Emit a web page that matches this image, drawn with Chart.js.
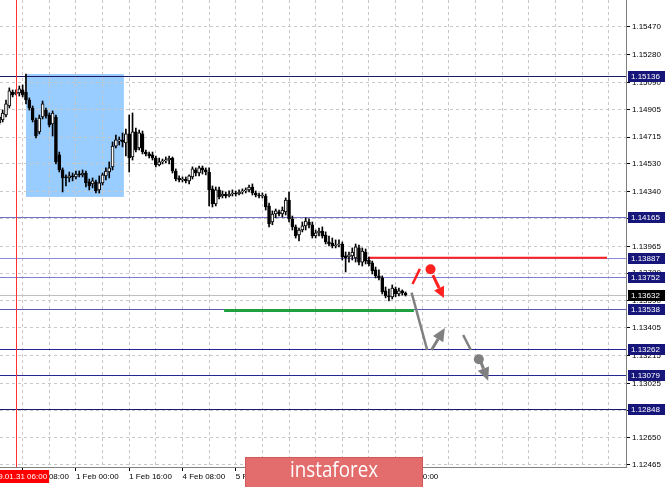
<!DOCTYPE html>
<html>
<head>
<meta charset="utf-8">
<script src="https://cdn.jsdelivr.net/npm/chart.js@4.4.1/dist/chart.umd.min.js"></script>
<style>
  html, body { margin: 0; padding: 0; background: #fff; }
  #wrap { width: 665px; height: 487px; }
</style>
</head>
<body>
<div id="wrap"><canvas id="chart" width="665" height="487"></canvas></div>
<script>
// hourly EURUSD candles, first bar = 31 Jan 01:00 (bar 0 = 31 Jan 06:00)
const firstBar = -5;
const opens = [
  1.14811, 1.14832, 1.14866, 1.14928, 1.15024, 1.15010, 1.15017, 1.15038, 1.15024, 1.14969,
  1.14914, 1.14832, 1.14750, 1.14852, 1.14900, 1.14866, 1.14804, 1.14852, 1.14592, 1.14489,
  1.14441, 1.14434, 1.14448, 1.14441, 1.14461, 1.14455, 1.14468, 1.14407, 1.14393, 1.14407,
  1.14352, 1.14400, 1.14448, 1.14475, 1.14510, 1.14653, 1.14688, 1.14695, 1.14674, 1.14736,
  1.14578, 1.14750, 1.14640, 1.14736, 1.14612, 1.14599, 1.14592, 1.14571, 1.14523, 1.14544,
  1.14551, 1.14557, 1.14571, 1.14482, 1.14434, 1.14420, 1.14427, 1.14414, 1.14441, 1.14489,
  1.14468, 1.14503, 1.14489, 1.14475, 1.14359, 1.14256, 1.14352, 1.14310, 1.14324, 1.14310,
  1.14324, 1.14331, 1.14324, 1.14338, 1.14345, 1.14352, 1.14372, 1.14331, 1.14317, 1.14310,
  1.14310, 1.14242, 1.14132, 1.14187, 1.14201, 1.14187, 1.14201, 1.14283, 1.14153, 1.14098,
  1.14043, 1.14077, 1.14105, 1.14132, 1.14112, 1.14036, 1.14057, 1.14070, 1.14043, 1.13995,
  1.13988, 1.13967, 1.13974, 1.13981, 1.13899, 1.13892, 1.13899, 1.13885, 1.13954, 1.13857,
  1.13926, 1.13871, 1.13851, 1.13803, 1.13762, 1.13748, 1.13659, 1.13624, 1.13618, 1.13672,
  1.13638, 1.13659, 1.13645
];
const highs = [
  1.14866, 1.14900, 1.14969, 1.15052, 1.15038, 1.15038, 1.15065, 1.15072, 1.15147, 1.14983,
  1.14928, 1.14845, 1.14866, 1.14962, 1.14914, 1.14880, 1.14894, 1.14866, 1.14612, 1.14503,
  1.14455, 1.14475, 1.14468, 1.14482, 1.14482, 1.14489, 1.14482, 1.14427, 1.14434, 1.14420,
  1.14448, 1.14468, 1.14503, 1.14544, 1.14681, 1.14729, 1.14715, 1.14743, 1.14770, 1.14866,
  1.14880, 1.14777, 1.14763, 1.14756, 1.14626, 1.14612, 1.14612, 1.14585, 1.14571, 1.14564,
  1.14578, 1.14585, 1.14578, 1.14496, 1.14448, 1.14441, 1.14441, 1.14455, 1.14510, 1.14503,
  1.14516, 1.14516, 1.14503, 1.14503, 1.14379, 1.14372, 1.14372, 1.14345, 1.14338, 1.14345,
  1.14352, 1.14345, 1.14352, 1.14359, 1.14366, 1.14386, 1.14393, 1.14345, 1.14331, 1.14331,
  1.14324, 1.14262, 1.14208, 1.14221, 1.14214, 1.14235, 1.14297, 1.14338, 1.14173, 1.14112,
  1.14091, 1.14132, 1.14160, 1.14153, 1.14132, 1.14077, 1.14091, 1.14098, 1.14064, 1.14036,
  1.14022, 1.14009, 1.14009, 1.13995, 1.13926, 1.13926, 1.13954, 1.13981, 1.13974, 1.13954,
  1.13947, 1.13892, 1.13864, 1.13823, 1.13803, 1.13762, 1.13686, 1.13672, 1.13700, 1.13686,
  1.13679, 1.13666, 1.13652
];
const lows = [
  1.14798, 1.14818, 1.14852, 1.14914, 1.14990, 1.15003, 1.14996, 1.14990, 1.14942, 1.14900,
  1.14818, 1.14708, 1.14736, 1.14839, 1.14845, 1.14784, 1.14722, 1.14530, 1.14475, 1.14338,
  1.14379, 1.14407, 1.14414, 1.14427, 1.14441, 1.14441, 1.14372, 1.14352, 1.14366, 1.14331,
  1.14331, 1.14386, 1.14420, 1.14434, 1.14489, 1.14640, 1.14660, 1.14647, 1.14585, 1.14475,
  1.14557, 1.14612, 1.14626, 1.14599, 1.14585, 1.14571, 1.14557, 1.14510, 1.14516, 1.14530,
  1.14537, 1.14530, 1.14468, 1.14414, 1.14407, 1.14407, 1.14400, 1.14393, 1.14427, 1.14448,
  1.14448, 1.14461, 1.14455, 1.14242, 1.14235, 1.14242, 1.14290, 1.14297, 1.14297, 1.14304,
  1.14310, 1.14310, 1.14317, 1.14324, 1.14331, 1.14338, 1.14317, 1.14304, 1.14297, 1.14297,
  1.14214, 1.14098, 1.14113, 1.14160, 1.14173, 1.14166, 1.14180, 1.14132, 1.14077, 1.14022,
  1.14002, 1.14064, 1.14077, 1.14091, 1.14022, 1.14022, 1.14036, 1.14022, 1.13981, 1.13967,
  1.13954, 1.13954, 1.13961, 1.13871, 1.13789, 1.13857, 1.13871, 1.13857, 1.13837, 1.13830,
  1.13844, 1.13830, 1.13775, 1.13748, 1.13734, 1.13638, 1.13611, 1.13590, 1.13604, 1.13618,
  1.13624, 1.13631, 1.13624
];
const closes = [
  1.14852, 1.14879, 1.14942, 1.15031, 1.15003, 1.15024, 1.15045, 1.15003, 1.14969, 1.14914,
  1.14832, 1.14722, 1.14845, 1.14942, 1.14859, 1.14798, 1.14880, 1.14544, 1.14489, 1.14434,
  1.14434, 1.14448, 1.14441, 1.14461, 1.14455, 1.14468, 1.14400, 1.14379, 1.14414, 1.14345,
  1.14400, 1.14455, 1.14482, 1.14503, 1.14653, 1.14695, 1.14695, 1.14681, 1.14736, 1.14571,
  1.14750, 1.14626, 1.14743, 1.14612, 1.14599, 1.14585, 1.14571, 1.14523, 1.14544, 1.14551,
  1.14557, 1.14571, 1.14482, 1.14427, 1.14420, 1.14427, 1.14414, 1.14448, 1.14496, 1.14468,
  1.14503, 1.14489, 1.14475, 1.14352, 1.14256, 1.14352, 1.14304, 1.14324, 1.14310, 1.14324,
  1.14331, 1.14324, 1.14338, 1.14345, 1.14352, 1.14372, 1.14331, 1.14317, 1.14310, 1.14317,
  1.14235, 1.14119, 1.14187, 1.14208, 1.14187, 1.14214, 1.14283, 1.14153, 1.14098, 1.14036,
  1.14077, 1.14105, 1.14139, 1.14112, 1.14036, 1.14057, 1.14070, 1.14036, 1.13995, 1.13981,
  1.13967, 1.13974, 1.13981, 1.13892, 1.13885, 1.13906, 1.13926, 1.13961, 1.13857, 1.13933,
  1.13864, 1.13844, 1.13796, 1.13762, 1.13748, 1.13652, 1.13624, 1.13618, 1.13679, 1.13638,
  1.13659, 1.13645, 1.13632
];

// axes
const yTicks = [1.15470, 1.15280, 1.15090, 1.14905, 1.14715, 1.14530, 1.14340, 1.14155, 1.13965,
  1.13780, 1.13590, 1.13405, 1.13215, 1.13025, 1.12840, 1.12650, 1.12465];
const xLabelBars = [2, 18, 34, 50, 66, 82, 98, 114];
const xLabelTexts = ['31 Jan 08:00', '1 Feb 00:00', '1 Feb 16:00', '4 Feb 08:00',
  '5 Feb 00:00', '5 Feb 16:00', '6 Feb 08:00', '7 Feb 00:00'];
const yMin = 1.12451, yMax = 1.15655;
const xMin = -4.8, xMax = 183.2;

// levels and drawn objects (bar index / price)
const levelPrices = [1.15136, 1.14165, 1.13887, 1.13752, 1.13538, 1.13262, 1.13079, 1.12848];
const levelColors = ['#1a1a66', '#7070c4', '#8a8ad6', '#7e7ed0', '#5858b0', '#262690', '#262690', '#1a1a70'];
const bidPrice = 1.13632;
const markerBar = 0, markerText = '2019.01.31 06:00';
const boxBars = [3.0, 32.4], boxPrices = [1.15147, 1.14304];
const redLevel = { from: 105.7, to: 177.5, price: 1.13887 };
const greenLevel = { from: 62.5, to: 119.5, price: 1.13525 };
const redSlash = [[119.1, 1.13707], [121.3, 1.13810]];
const redDot = [124.5, 1.13808];
const redArrow = [[125.2, 1.13768], [128.5, 1.13611]];
const grayLine1 = [[118.8, 1.13647], [123.5, 1.13254]];
const grayArrow1 = [[124.8, 1.13254], [128.8, 1.13405]];
const grayLine2 = [[134.3, 1.13357], [136.6, 1.13254]];
const grayDot = [139.0, 1.13190];
const grayArrow2 = [[139.6, 1.13172], [141.8, 1.13043]];

const gridBars = [];
for (let b = 2; b <= xMax; b += 8) gridBars.push(b);

const bars = opens.map((_, k) => firstBar + k);
const bodies = bars.map((b, k) => ({ x: b, y: [opens[k], closes[k]] }));
const wicks = bars.map((b, k) => ({ x: b, y: [lows[k], highs[k]] }));
const bodyColors = bars.map((b, k) => closes[k] > opens[k] ? '#ffffff' : '#000000');

const font8 = "8px 'Liberation Sans', Arial, sans-serif";

function pt(chart, p) {
  return [chart.scales.x.getPixelForValue(p[0]), chart.scales.y.getPixelForValue(p[1])];
}
function seg(ctx, a, b, color, w) {
  ctx.strokeStyle = color; ctx.lineWidth = w; ctx.lineCap = 'butt';
  ctx.beginPath(); ctx.moveTo(a[0], a[1]); ctx.lineTo(b[0], b[1]); ctx.stroke();
}
function arrow(ctx, a, b, color, w, hl, hw) {
  const ang = Math.atan2(b[1] - a[1], b[0] - a[0]);
  const bx = b[0] - hl * Math.cos(ang), by = b[1] - hl * Math.sin(ang);
  seg(ctx, a, [bx, by], color, w);
  ctx.fillStyle = color;
  ctx.beginPath();
  ctx.moveTo(b[0], b[1]);
  ctx.lineTo(bx + hw / 2 * Math.sin(ang), by - hw / 2 * Math.cos(ang));
  ctx.lineTo(bx - hw / 2 * Math.sin(ang), by + hw / 2 * Math.cos(ang));
  ctx.closePath(); ctx.fill();
}
function dot(ctx, c, r, color) {
  ctx.fillStyle = color; ctx.beginPath(); ctx.arc(c[0], c[1], r, 0, Math.PI * 2); ctx.fill();
}

const overlay = {
  id: 'overlay',
  beforeDraw(chart) {
    const ctx = chart.ctx;
    const a = pt(chart, [boxBars[0], boxPrices[0]]), b = pt(chart, [boxBars[1], boxPrices[1]]);
    ctx.save();
    ctx.fillStyle = '#99ccff';
    ctx.fillRect(a[0], a[1], b[0] - a[0], b[1] - a[1]);
    ctx.restore();
  },
  beforeDatasetsDraw(chart) {
    const { ctx, chartArea: ca, scales: { y } } = chart;
    ctx.save();
    const yb = Math.round(y.getPixelForValue(bidPrice)) + 0.5;
    seg(ctx, [ca.left, yb], [ca.right, yb], '#c0c0c0', 1);
    levelPrices.forEach((p, k) => {
      const yy = Math.round(y.getPixelForValue(p)) + 0.5;
      seg(ctx, [ca.left, yy], [ca.right, yy], levelColors[k], 1);
    });
    seg(ctx, pt(chart, [redLevel.from, redLevel.price]), pt(chart, [redLevel.to, redLevel.price]), '#ff2020', 2);
    seg(ctx, pt(chart, [greenLevel.from, greenLevel.price]), pt(chart, [greenLevel.to, greenLevel.price]), '#1fa040', 3);
    ctx.restore();
  },
  afterDatasetsDraw(chart) {
    const { ctx, chartArea: ca } = chart;
    ctx.save();
    const mx = Math.round(chart.scales.x.getPixelForValue(markerBar)) + 0.5;
    seg(ctx, [mx, ca.top], [mx, ca.bottom], '#ff3030', 1);
    seg(ctx, pt(chart, redSlash[0]), pt(chart, redSlash[1]), '#ff2020', 2.5);
    dot(ctx, pt(chart, redDot), 5, '#ff2020');
    arrow(ctx, pt(chart, redArrow[0]), pt(chart, redArrow[1]), '#ff2020', 3, 11, 11);
    seg(ctx, pt(chart, grayLine1[0]), pt(chart, grayLine1[1]), '#808080', 2.5);
    arrow(ctx, pt(chart, grayArrow1[0]), pt(chart, grayArrow1[1]), '#808080', 3, 13, 12);
    seg(ctx, pt(chart, grayLine2[0]), pt(chart, grayLine2[1]), '#808080', 2.5);
    dot(ctx, pt(chart, grayDot), 5, '#808080');
    arrow(ctx, pt(chart, grayArrow2[0]), pt(chart, grayArrow2[1]), '#808080', 3, 13, 12);
    ctx.restore();
  },
  afterDraw(chart) {
    const { ctx, chartArea: ca, scales: { x, y } } = chart;
    ctx.save();
    ctx.font = font8;
    ctx.textBaseline = 'middle';
    // price labels on the right axis
    const tag = (p, bg) => {
      const yy = Math.round(y.getPixelForValue(p));
      ctx.fillStyle = bg;
      ctx.fillRect(ca.right + 2, yy - 5, 37, 11);
      ctx.fillStyle = '#ffffff';
      ctx.textAlign = 'left';
      ctx.fillText(p.toFixed(5), ca.right + 5, yy + 0.5);
    };
    levelPrices.forEach(p => tag(p, '#16167a'));
    tag(bidPrice, '#000000');
    // time marker label
    const mx = x.getPixelForValue(markerBar);
    const tw = ctx.measureText(markerText).width + 4;
    ctx.fillStyle = '#ff0000';
    ctx.fillRect(mx - tw / 2, ca.bottom + 3, tw, 13);
    ctx.fillStyle = '#ffffff';
    ctx.textAlign = 'center';
    ctx.fillText(markerText, mx, ca.bottom + 10);
    // watermark
    ctx.fillStyle = '#e36c6c';
    ctx.fillRect(245, 457, 178, 30);
    ctx.strokeStyle = '#d05858';
    ctx.lineWidth = 1;
    ctx.strokeRect(245.5, 457.5, 177, 30);
    ctx.fillStyle = '#ffffff';
    ctx.font = "21px 'Open Sans', Roboto, sans-serif";
    ctx.fillText('instaforex', 334, 471, 88);
    ctx.restore();
  }
};

new Chart(document.getElementById('chart'), {
  type: 'bar',
  data: {
    datasets: [
      { data: bodies, backgroundColor: bodyColors, borderColor: '#000000', borderWidth: 1,
        borderSkipped: false, barThickness: 3, minBarLength: 1, grouped: false, order: 0 },
      { data: wicks, backgroundColor: '#000000', borderWidth: 0,
        barThickness: 1, grouped: false, order: 1 }
    ]
  },
  options: {
    responsive: false,
    animation: false,
    devicePixelRatio: 1,
    layout: { padding: 0 },
    plugins: { legend: { display: false }, tooltip: { enabled: false } },
    scales: {
      x: {
        type: 'linear', min: xMin, max: xMax, offset: false,
        afterBuildTicks: s => { s.ticks = gridBars.map(v => ({ value: v })); },
        afterFit: s => { s.height = 20; s.paddingLeft = 0; s.paddingRight = 0; },
        grid: {
          color: '#c8c8c8', lineWidth: 1, tickLength: 4, offset: false,
          tickColor: c => xLabelBars.includes(c.tick && c.tick.value) ? '#000000' : 'rgba(0,0,0,0)'
        },
        border: { display: true, color: '#808080', width: 1, dash: [3, 3] },
        ticks: {
          autoSkip: false, maxRotation: 0, align: 'start', padding: 1, color: '#000000',
          font: { family: "'Liberation Sans', Arial, sans-serif", size: 8 },
          callback: v => { const k = xLabelBars.indexOf(v); return k >= 0 ? xLabelTexts[k] : ''; }
        }
      },
      y: {
        type: 'linear', position: 'right', min: yMin, max: yMax,
        afterBuildTicks: s => { s.ticks = yTicks.map(v => ({ value: v })); },
        afterFit: s => { s.width = 39; s.paddingTop = 0; s.paddingBottom = 0; },
        grid: { color: '#c8c8c8', lineWidth: 1, tickLength: 4, tickColor: '#000000' },
        border: { display: true, color: '#808080', width: 1, dash: [3, 3] },
        ticks: {
          padding: 2, color: '#000000',
          font: { family: "'Liberation Sans', Arial, sans-serif", size: 8 },
          callback: v => v.toFixed(5)
        }
      }
    }
  },
  plugins: [overlay]
});
</script>
</body>
</html>
